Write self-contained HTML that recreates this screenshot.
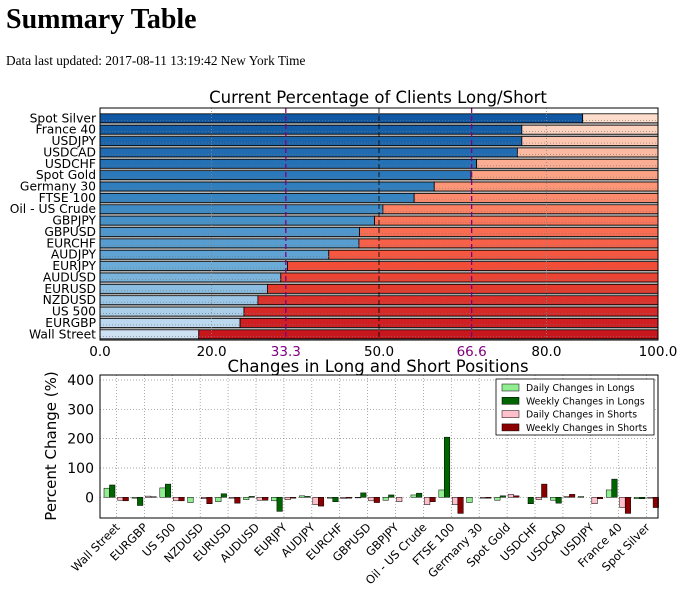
<!DOCTYPE html>
<html><head><meta charset="utf-8"><style>
body{margin:0;background:#fff;width:680px;height:591px;overflow:hidden;position:relative}
h1{position:absolute;left:6px;top:4px;margin:0;font:bold 28px "Liberation Serif",serif}
.upd{position:absolute;left:6px;top:53px;font:13.3px "Liberation Serif",serif}
svg{position:absolute;left:0;top:0}
text{font-family:"DejaVu Sans","Liberation Sans",sans-serif}
</style></head><body>
<h1>Summary Table</h1>
<div class="upd">Data last updated: 2017-08-11 13:19:42 New York Time</div>
<svg id="c" width="680" height="591"></svg>
<script>
const topCats=["Spot Silver","France 40","USDJPY","USDCAD","USDCHF","Spot Gold","Germany 30","FTSE 100","Oil - US Crude","GBPJPY","GBPUSD","EURCHF","AUDJPY","EURJPY","AUDUSD","EURUSD","NZDUSD","US 500","EURGBP","Wall Street"];
const longPct=[86.5,75.6,75.6,74.8,67.5,66.5,59.9,56.3,50.7,49.2,46.5,46.4,41.0,33.6,32.4,30.0,28.3,25.8,25.1,17.7];
const topTicks=[0,20,33.3,50,66.6,80,100];
const botCats=["Wall Street","EURGBP","US 500","NZDUSD","EURUSD","AUDUSD","EURJPY","AUDJPY","EURCHF","GBPUSD","GBPJPY","Oil - US Crude","FTSE 100","Germany 30","Spot Gold","USDCHF","USDCAD","USDJPY","France 40","Spot Silver"];
const dailyLongs=[31,-3,32,-18,-15,-8,-12,5,-3,-2,-10,8,25,-18,-10,0,-10,3,25,-5];
const weeklyLongs=[42,-28,45,0,12,3,-48,3,-15,15,8,14,205,0,5,-22,-20,0,62,-5];
const dailyShorts=[-10,4,-12,-5,-3,-10,-8,-25,-4,-12,-15,-25,-25,-3,10,-8,3,-22,-35,-3];
const weeklyShorts=[-12,2,-12,-22,-20,-10,-3,-30,-3,-18,0,-15,-55,-3,5,45,10,-5,-55,-35];
const botTicks=[0,100,200,300,400];
const svg=document.getElementById('c');const NS='http://www.w3.org/2000/svg';
function mk(t,a,p){const e=document.createElementNS(NS,t);for(const k in a)e.setAttribute(k,a[k]);(p||svg).appendChild(e);return e;}
function grad(stops,f){const n=stops.length-1,s=Math.min(n-1,Math.floor(f*n)),u=f*n-s;return stops[s].map((v,i)=>Math.round(v+(stops[s+1][i]-v)*u));}
function rgb(c){return 'rgb('+c.join(',')+')';}
const blues=[[16,88,163],[50,128,192],[100,168,214],[205,225,242]];
const reds=[[253,222,205],[252,146,114],[245,80,58],[200,22,29]];
// TOP
const L=100,R=658,T=108,B=340;
const xs=v=>L+(R-L)*v/100;
const rowY=i=>118.3+i*(334.3-118.3)/(topCats.length-1);
mk('rect',{x:L,y:T,width:R-L,height:B-T,fill:'#fff'});
let t=mk('text',{x:378,y:103,'text-anchor':'middle','font-size':16.5});t.textContent='Current Percentage of Clients Long/Short';

topCats.forEach((c,i)=>{const y=rowY(i),f=i/(topCats.length-1);
 const bl=grad(blues,f),rd=grad(reds,f);
 mk('rect',{x:L,y:y+4.5,width:R-L,height:1.8,fill:'#aaa'});
 let r1=mk('rect',{x:xs(0),y:y-4.5,width:xs(longPct[i])-xs(0),height:9,fill:rgb(bl),stroke:'#000','stroke-width':0.8});
 
 let r2=mk('rect',{x:xs(longPct[i]),y:y-4.5,width:xs(100)-xs(longPct[i]),height:9,fill:rgb(rd),stroke:'#000','stroke-width':0.8});
 
 mk('line',{x1:L,x2:R,y1:y+2,y2:y+2,stroke:'#777','stroke-dasharray':'1,2','stroke-width':0.6});
 let tx=mk('text',{x:96,y:y+4,'text-anchor':'end','font-size':12.3});tx.textContent=c;
 
});
topTicks.forEach(v=>{const x=xs(v),sp=(v==33.3||v==66.6);
 if(v>0&&v<100)mk('line',{x1:x,x2:x,y1:T,y2:B,stroke:sp?'#800080':(v==50?'#000':'#888'),'stroke-dasharray':sp||v==50?'5,3':'1,2','stroke-width':sp?1.3:0.8});
 let tx=mk('text',{x:x,y:356,'text-anchor':'middle','font-size':13.5,fill:sp?'#800080':'#000'});tx.textContent=v.toFixed(1);
 });
mk('rect',{x:L,y:T,width:R-L,height:B-T,fill:'none',stroke:'#000','stroke-width':1});
// BOTTOM
const BL=100,BR=658,BT=375,BB=518,ymin=-70.6,ymax=417;
const ys=v=>BB-(v-ymin)/(ymax-ymin)*(BB-BT);
t=mk('text',{x:378,y:372,'text-anchor':'middle','font-size':16.5});t.textContent='Changes in Long and Short Positions';

botTicks.forEach(v=>{const y=ys(v);mk('line',{x1:BL,x2:BR,y1:y,y2:y,stroke:'#888','stroke-dasharray':'1,2','stroke-width':0.7});
 let tx=mk('text',{x:94,y:y+5,'text-anchor':'end','font-size':14});tx.textContent=v;
 });
const gw=(BR-BL)/botCats.length;
const series=[[dailyLongs,'#90ee90'],[weeklyLongs,'#006400'],[dailyShorts,'#ffc0cb'],[weeklyShorts,'#8b0000']];
botCats.forEach((c,i)=>{const g0=BL+4+i*gw,cx=g0+12.5;
 mk('line',{x1:cx,x2:cx,y1:BT,y2:BB,stroke:'#888','stroke-dasharray':'1,2','stroke-width':0.7});
 series.forEach((s,k)=>{const v=s[0][i],x=g0+k*5.5+(k>1?2.5:0);
  let r=mk('rect',{x:x,y:Math.min(ys(v),ys(0)),width:5.5,height:Math.abs(ys(v)-ys(0)),fill:s[1],stroke:'#000','stroke-width':0.5});
  });
 let tx=mk('text',{x:cx+4,y:BB+10,'text-anchor':'end','font-size':11.5,transform:'rotate(-45 '+(cx+4)+' '+(BB+10)+')'});tx.textContent=c;
 });
mk('rect',{x:BL,y:BT,width:BR-BL,height:BB-BT,fill:'none',stroke:'#000','stroke-width':1});
t=mk('text',{x:56,y:446,'text-anchor':'middle','font-size':15,transform:'rotate(-90 56 446)'});t.textContent='Percent Change (%)';

// legend
const lg=mk('g',{});
mk('rect',{x:496,y:379,width:158,height:56,fill:'#fff',stroke:'#000','stroke-width':0.8},lg);
const names=['Daily Changes in Longs','Weekly Changes in Longs','Daily Changes in Shorts','Weekly Changes in Shorts'];
names.forEach((n,k)=>{const y=388+k*13.3;
 mk('rect',{x:502,y:y-4,width:17,height:7,fill:series[k][1],stroke:'#000','stroke-width':0.5},lg);
 let tx=mk('text',{x:526,y:y+3,'font-size':9.3},lg);tx.textContent=n;
 });
</script>
</body></html>
